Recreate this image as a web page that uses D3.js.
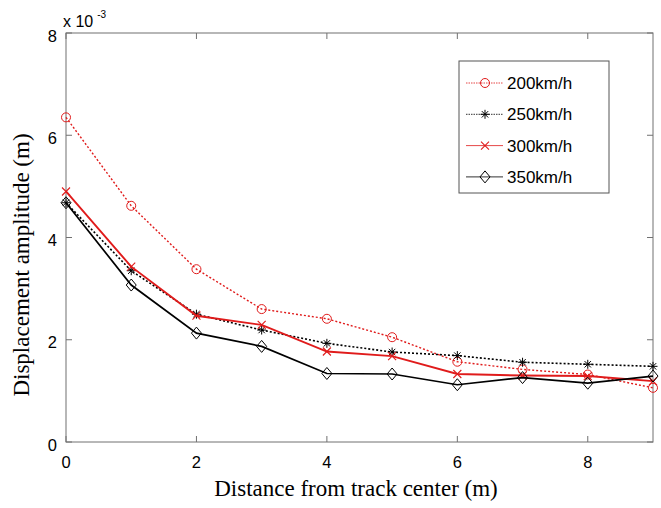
<!DOCTYPE html>
<html>
<head>
<meta charset="utf-8">
<script src="https://cdn.jsdelivr.net/npm/d3@7"></script>
<style>
  body { margin: 0; background: #fff; }
  svg { display: block; }
</style>
</head>
<body>
<script>
// distance from track center (m)
const distances = [0, 1, 2, 3, 4, 5, 6, 7, 8, 9];
// displacement amplitude, in units of 1e-3 m
const v200 = [6.35, 4.62, 3.38, 2.60, 2.41, 2.05, 1.57, 1.42, 1.32, 1.06];
const v250 = [4.68, 3.35, 2.50, 2.19, 1.93, 1.76, 1.69, 1.56, 1.52, 1.48];
const v300 = [4.90, 3.43, 2.47, 2.29, 1.77, 1.68, 1.33, 1.30, 1.29, 1.19];
const v350 = [4.68, 3.07, 2.13, 1.87, 1.34, 1.33, 1.12, 1.26, 1.15, 1.29];
const seriesNames = ["200km/h", "250km/h", "300km/h", "350km/h"];
const xTicks = [0, 2, 4, 6, 8];
const yTicks = [0, 2, 4, 6, 8];

const W = 661, H = 508;
const margin = {top: 33, right: 8, bottom: 66, left: 66};
const width = W - margin.left - margin.right,
      height = H - margin.top - margin.bottom;

const red = "#e01b1b";
const styles = [
  {color: red, width: 1.4, dash: "2,2", marker: "circle"},
  {color: "#000", width: 1.6, dash: "2,2", marker: "star"},
  {color: red, width: 1.9, dash: null, marker: "x"},
  {color: "#000", width: 1.7, dash: null, marker: "diamond"}
];
const allSeries = [v200, v250, v300, v350];

const svg = d3.select("body").append("svg")
  .attr("width", W).attr("height", H);

const g = svg.append("g")
  .attr("transform", "translate(" + margin.left + "," + margin.top + ")");

const x = d3.scaleLinear().domain([0, 9]).range([0, width]);
const y = d3.scaleLinear().domain([0, 8]).range([height, 0]);

const axisColor = "#707070";
const tickFont = "'Liberation Sans', Arial, sans-serif";
const serif = "'Liberation Serif', 'Times New Roman', serif";

// box
g.append("rect")
  .attr("width", width).attr("height", height)
  .attr("fill", "none").attr("stroke", axisColor).attr("stroke-width", 1);

// inner ticks on all four sides
xTicks.forEach(t => {
  g.append("line").attr("x1", x(t)).attr("x2", x(t)).attr("y1", height).attr("y2", height - 6)
    .attr("stroke", axisColor);
  g.append("line").attr("x1", x(t)).attr("x2", x(t)).attr("y1", 0).attr("y2", 6)
    .attr("stroke", axisColor);
});
yTicks.forEach(t => {
  g.append("line").attr("x1", 0).attr("x2", 6).attr("y1", y(t)).attr("y2", y(t))
    .attr("stroke", axisColor);
  g.append("line").attr("x1", width).attr("x2", width - 6).attr("y1", y(t)).attr("y2", y(t))
    .attr("stroke", axisColor);
});

// tick labels
g.selectAll(".xt").data(xTicks).enter().append("text")
  .attr("x", d => x(d)).attr("y", height + 26)
  .attr("text-anchor", "middle")
  .style("font-family", tickFont).style("font-size", "16.5px")
  .text(d => d);

g.selectAll(".yt").data(yTicks).enter().append("text")
  .attr("x", -9).attr("y", d => y(d) + 8.5)
  .attr("text-anchor", "end")
  .style("font-family", tickFont).style("font-size", "16.5px")
  .text(d => d);

// exponent label
const ex = g.append("text").attr("x", -3).attr("y", -6)
  .style("font-family", tickFont).style("font-size", "16px");
ex.append("tspan").text("x 10");
ex.append("tspan").attr("dx", 4).attr("dy", -9).style("font-size", "10px").text("-3");

// axis titles
svg.append("text")
  .attr("x", 356).attr("y", 496)
  .attr("text-anchor", "middle")
  .style("font-family", serif)
  .style("font-size", "23px")
  .text("Distance from track center (m)");

svg.append("text")
  .attr("transform", "translate(29,265) rotate(-90)")
  .attr("text-anchor", "middle")
  .style("font-family", serif)
  .style("font-size", "23px")
  .text("Displacement amplitude (m)");

// marker drawing
function drawMarker(sel, type, color, cx, cy) {
  if (type === "circle") {
    sel.append("circle").attr("cx", cx).attr("cy", cy).attr("r", 4.5)
      .attr("fill", "none").attr("stroke", color).attr("stroke-width", 1);
  } else if (type === "diamond") {
    sel.append("path")
      .attr("d", `M${cx},${cy - 6}L${cx + 5},${cy}L${cx},${cy + 6}L${cx - 5},${cy}Z`)
      .attr("fill", "none").attr("stroke", color).attr("stroke-width", 1);
  } else if (type === "x") {
    const s = 4;
    sel.append("path")
      .attr("d", `M${cx - s},${cy - s}L${cx + s},${cy + s}M${cx - s},${cy + s}L${cx + s},${cy - s}`)
      .attr("stroke", color).attr("stroke-width", 1.1);
  } else if (type === "star") {
    const s = 4.5, d = 3.2;
    sel.append("path")
      .attr("d", `M${cx},${cy - s}L${cx},${cy + s}M${cx - s},${cy}L${cx + s},${cy}` +
        `M${cx - d},${cy - d}L${cx + d},${cy + d}M${cx - d},${cy + d}L${cx + d},${cy - d}`)
      .attr("stroke", color).attr("stroke-width", 1);
  }
}

const line = d3.line()
  .x((d, i) => x(distances[i]))
  .y(d => y(d));

allSeries.forEach((vals, k) => {
  const st = styles[k];
  const sg = g.append("g");
  sg.append("path").datum(vals)
    .attr("d", line)
    .attr("fill", "none")
    .attr("stroke", st.color)
    .attr("stroke-width", st.width)
    .attr("stroke-dasharray", st.dash);
  vals.forEach((v, i) => drawMarker(sg, st.marker, st.color, x(distances[i]), y(v)));
});

// legend
const lg = svg.append("g").attr("transform", "translate(459,61)");
lg.append("rect").attr("width", 150).attr("height", 132)
  .attr("fill", "#fff").attr("stroke", "#555").attr("stroke-width", 1);
seriesNames.forEach((name, k) => {
  const st = styles[k];
  const yy = 22 + k * 31.3;
  lg.append("line").attr("x1", 7).attr("x2", 44).attr("y1", yy).attr("y2", yy)
    .attr("stroke", st.color).attr("stroke-width", 1)
    .attr("stroke-dasharray", st.dash ? "1.5,1" : null)
    .attr("opacity", 0.8);
  drawMarker(lg, st.marker, st.color, 26, yy);
  lg.append("text").attr("x", 48).attr("y", yy + 6)
    .style("font-family", tickFont).style("font-size", "17px")
    .text(name);
});
</script>
</body>
</html>
